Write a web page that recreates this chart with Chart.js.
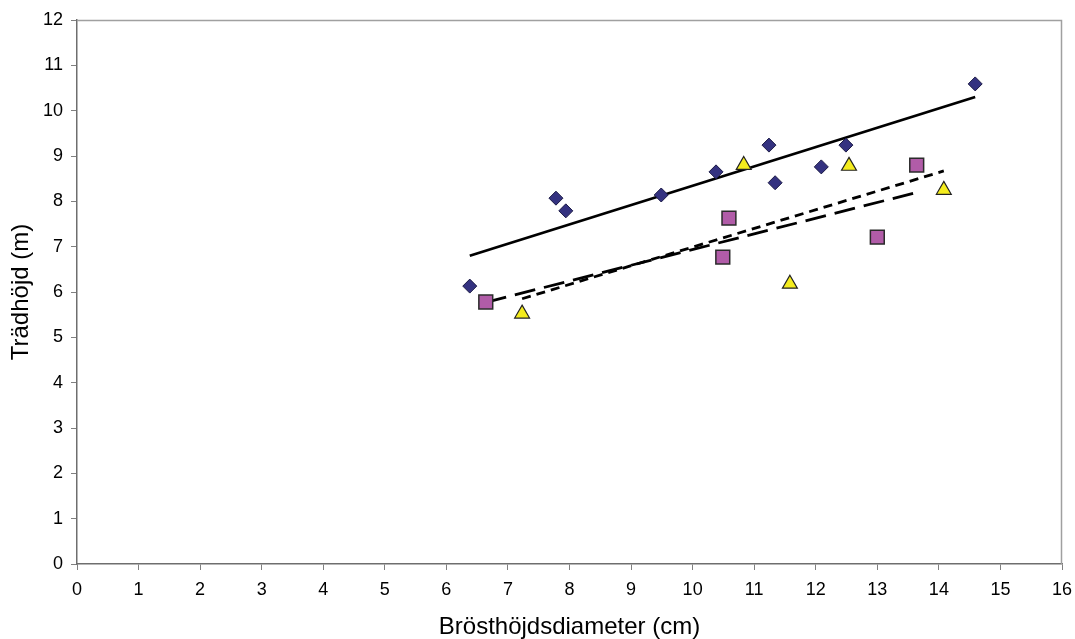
<!DOCTYPE html>
<html>
<head>
<meta charset="utf-8">
<script src="https://cdn.jsdelivr.net/npm/chart.js@4"></script>
<style>
  html, body { margin: 0; padding: 0; background: #fff; }
  #wrap { width: 1075px; height: 639px; }
</style>
</head>
<body>
<div id="wrap"><canvas id="chart" width="1075" height="639"></canvas></div>
<script>
// Trädhöjd mot brösthöjdsdiameter, tre grupper med linjära trendlinjer
const diamondX = [6.38, 7.78, 7.94, 9.49, 10.38, 11.24, 11.34, 12.09, 12.49, 14.59];
const diamondY = [6.13, 8.07, 7.79, 8.14, 8.65, 9.24, 8.41, 8.76, 9.24, 10.59];
const squareX = [6.64, 10.49, 10.59, 13.0, 13.64];
const squareY = [5.78, 6.77, 7.63, 7.21, 8.80];
const triangleX = [7.23, 10.83, 11.58, 12.54, 14.08];
const triangleY = [5.52, 8.80, 6.18, 8.78, 8.25];

const xTicks = { min: 0, max: 16, step: 1 };
const yTicks = { min: 0, max: 12, step: 1 };
const xTitle = 'Brösthöjdsdiameter (cm)';
const yTitle = 'Trädhöjd (m)';

const FONT = "'Liberation Sans', Arial, sans-serif";

function toPoints(xs, ys) { return xs.map((x, i) => ({ x: x, y: ys[i] })); }

// minsta kvadrat-linje mellan minsta och största x
function trendLine(xs, ys) {
    const n = xs.length;
    const mx = xs.reduce((a, b) => a + b, 0) / n;
    const my = ys.reduce((a, b) => a + b, 0) / n;
    let sxy = 0, sxx = 0;
    xs.forEach((x, i) => { sxy += (x - mx) * (ys[i] - my); sxx += (x - mx) * (x - mx); });
    const k = sxy / sxx;
    const x0 = Math.min(...xs), x1 = Math.max(...xs);
    return [{ x: x0, y: my + k * (x0 - mx) }, { x: x1, y: my + k * (x1 - mx) }];
}

function lineSet(xs, ys, dash) {
    return {
        type: 'line', data: trendLine(xs, ys), order: 2,
        borderColor: '#000', borderWidth: 2.8, borderDash: dash,
        pointRadius: 0, fill: false, tension: 0
    };
}

const frame = {
    id: 'frame',
    beforeDatasetsDraw(chart) {
        const a = chart.chartArea, ctx = chart.ctx;
        ctx.save();
        ctx.strokeStyle = '#a0a0a0';
        ctx.lineWidth = 1.5;
        ctx.beginPath();
        ctx.moveTo(a.left, a.top + 0.5);
        ctx.lineTo(a.right - 0.5, a.top + 0.5);
        ctx.lineTo(a.right - 0.5, a.bottom);
        ctx.stroke();
        ctx.restore();
    }
};

const axisGrid = { display: true, drawOnChartArea: false, drawTicks: true, tickLength: 6, color: '#808080', lineWidth: 1 };
const axisBorder = { display: true, color: '#6e6e6e', width: 1.5 };

new Chart(document.getElementById('chart').getContext('2d'), {
    type: 'scatter',
    data: {
        datasets: [
            { data: toPoints(diamondX, diamondY), order: 1, pointStyle: 'rectRot', pointRadius: 7,
              backgroundColor: '#343280', borderColor: '#1b1a45', borderWidth: 1 },
            { data: toPoints(squareX, squareY), order: 1, pointStyle: 'rect', pointRadius: 9.8,
              backgroundColor: '#b15ca8', borderColor: '#2b2b2b', borderWidth: 1.5 },
            { data: toPoints(triangleX, triangleY), order: 1, pointStyle: 'triangle', pointRadius: 8.6,
              backgroundColor: '#f4ec1e', borderColor: '#222', borderWidth: 1.2 },
            lineSet(diamondX, diamondY, []),
            lineSet(squareX, squareY, [21, 9]),
            lineSet(triangleX, triangleY, [9, 6])
        ]
    },
    options: {
        responsive: false, animation: false,
        layout: { padding: { top: 20, right: 13, left: 0, bottom: 0 } },
        plugins: { legend: { display: false }, tooltip: { enabled: false } },
        scales: {
            x: {
                type: 'linear', min: xTicks.min, max: xTicks.max,
                ticks: { stepSize: xTicks.step, color: '#000', padding: 9, font: { family: FONT, size: 18 } },
                grid: axisGrid, border: axisBorder,
                title: { display: true, text: xTitle, color: '#000', padding: { top: 0, bottom: -3 }, font: { family: FONT, size: 24 } },
                afterFit(s) { s.height = 75; s.paddingLeft = 0; s.paddingRight = 0; }
            },
            y: {
                type: 'linear', min: yTicks.min, max: yTicks.max,
                ticks: { stepSize: yTicks.step, color: '#000', padding: 8, font: { family: FONT, size: 18 } },
                grid: axisGrid, border: axisBorder,
                title: { display: true, text: yTitle, color: '#000', padding: { top: 7, bottom: 0 }, font: { family: FONT, size: 24 } },
                afterFit(s) { s.width = 77; s.paddingTop = 0; s.paddingBottom = 0; }
            }
        }
    },
    plugins: [frame]
});
</script>
</body>
</html>
